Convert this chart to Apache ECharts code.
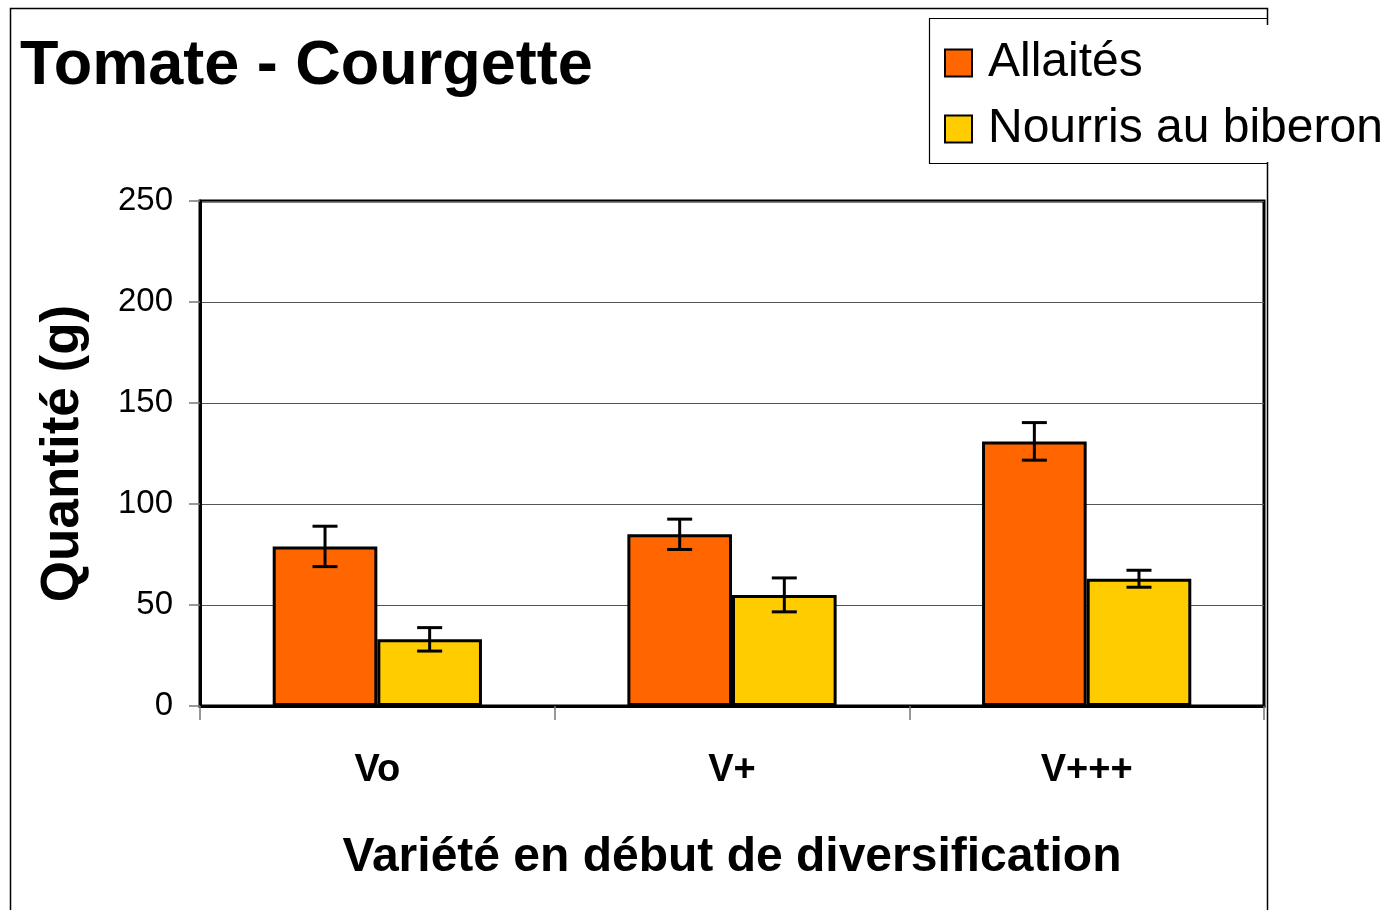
<!DOCTYPE html>
<html>
<head>
<meta charset="utf-8">
<script src="https://cdn.jsdelivr.net/npm/echarts@6/dist/echarts.min.js"></script>
<style>html,body{margin:0;padding:0;background:#fff;}#c{width:1389px;height:910px;}</style>
</head>
<body>
<div id="c"></div>
<script>
var categories = ['Vo', 'V+', 'V+++'];
var allaites = [79, 85, 131];
var allaitesErr = [10, 7.5, 9.3];
var biberon = [33, 55, 63];
var biberonErr = [5.8, 8.4, 4.2];
var yTicks = [0, 50, 100, 150, 200, 250];
var seriesNames = ['Allaités', 'Nourris au biberon'];

var CAT_GAP = 0.41;
function errData(vals, errs) {
  return vals.map(function (v, i) { return [i, v, v - errs[i], v + errs[i]]; });
}
function errRender(side) {
  return function (params, api) {
    var idx = api.value(0);
    var band = api.size([1, 0])[0];
    var bw = band * (1 - CAT_GAP) / 2;
    var c = api.coord([idx, api.value(1)]);
    var x = c[0] + side * bw / 2;
    var lo = api.coord([idx, api.value(2)])[1];
    var hi = api.coord([idx, api.value(3)])[1];
    var w = 12.5;
    var st = { stroke: '#000', lineWidth: 3 };
    return { type: 'group', children: [
      { type: 'line', shape: { x1: x, y1: lo, x2: x, y2: hi }, style: st },
      { type: 'line', shape: { x1: x - w, y1: lo, x2: x + w, y2: lo }, style: st },
      { type: 'line', shape: { x1: x - w, y1: hi, x2: x + w, y2: hi }, style: st }
    ]};
  };
}

var chart = echarts.init(document.getElementById('c'));
var font = 'Liberation Sans, Arial, sans-serif';
chart.setOption({
  backgroundColor: '#fff',
  animation: false,
  title: {
    text: 'Tomate - Courgette', left: 20, top: 35, padding: 0,
    textStyle: { fontFamily: font, fontSize: 63, fontWeight: 'bold', color: '#000' }
  },
  legend: {
    data: seriesNames, orient: 'vertical', left: 944, top: 35, padding: 0,
    itemWidth: 27, itemHeight: 27, itemGap: 10, icon: 'rect',
    textStyle: { fontFamily: font, fontSize: 48, color: '#000', lineHeight: 52, padding: [4, 0, 0, 11] }
  },
  grid: {
    left: 200, right: 125, top: 201, bottom: 204,
    show: true, borderColor: '#000', borderWidth: 3, backgroundColor: 'transparent'
  },
  xAxis: {
    type: 'category', data: categories,
    axisLine: { lineStyle: { color: '#000', width: 3 } },
    axisTick: { show: true, length: 14, lineStyle: { color: '#777', width: 1.5 } },
    axisLabel: { margin: 46, fontFamily: font, fontSize: 38, fontWeight: 'bold', color: '#000' },
    name: 'Variété en début de diversification', nameLocation: 'middle', nameGap: 128,
    nameTextStyle: { fontFamily: font, fontSize: 48, fontWeight: 'bold', color: '#000' }
  },
  yAxis: {
    type: 'value', min: yTicks[0], max: yTicks[yTicks.length - 1], interval: 50,
    axisLine: { show: true, lineStyle: { color: '#000', width: 3 } },
    axisTick: { show: true, length: 11, lineStyle: { color: '#777', width: 1.5 } },
    axisLabel: { margin: 27, fontFamily: font, fontSize: 33, color: '#000' },
    splitLine: { lineStyle: { color: '#555', width: 1 } },
    name: 'Quantité (g)', nameLocation: 'middle', nameGap: 110,
    nameTextStyle: { fontFamily: font, fontSize: 53, fontWeight: 'bold', color: '#000' }
  },
  series: [
    { name: seriesNames[0], type: 'bar', data: allaites, barGap: '0%', barCategoryGap: '41%',
      itemStyle: { color: '#FF6600', borderColor: '#000', borderWidth: 3 } },
    { name: seriesNames[1], type: 'bar', data: biberon, barGap: '0%', barCategoryGap: '41%',
      itemStyle: { color: '#FFCC00', borderColor: '#000', borderWidth: 3 } },
    { type: 'custom', renderItem: errRender(-1), data: errData(allaites, allaitesErr), z: 10, silent: true },
    { type: 'custom', renderItem: errRender(1), data: errData(biberon, biberonErr), z: 10, silent: true }
  ],
  graphic: [
    { type: 'polyline', silent: true, z: -1, shape: { points: [[10.5, 910], [10.5, 8.5], [1267.5, 8.5], [1267.5, 25]] }, style: { stroke: '#000', lineWidth: 1.5, fill: null } },
    { type: 'line', silent: true, shape: { x1: 1267.5, y1: 162, x2: 1267.5, y2: 910 }, style: { stroke: '#000', lineWidth: 1.5 } },
    { type: 'polyline', silent: true, shape: { points: [[1267.5, 18.5], [929.5, 18.5], [929.5, 163.5], [1267.5, 163.5]] }, style: { stroke: '#000', lineWidth: 1.2, fill: null } }
  ]
});
</script>
</body>
</html>
